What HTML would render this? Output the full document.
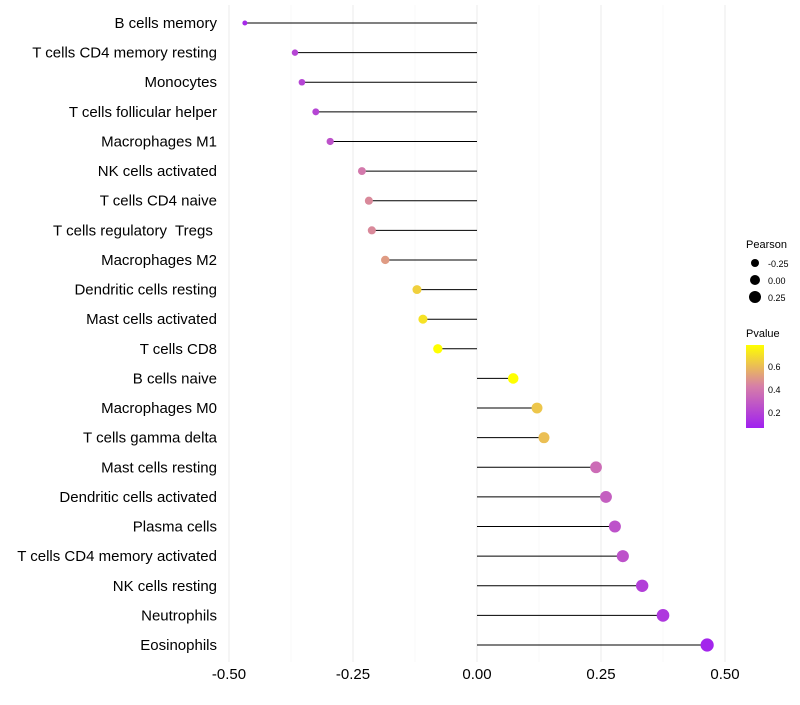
<!DOCTYPE html>
<html><head><meta charset="utf-8"><style>
body{margin:0;background:#fff;font-family:"Liberation Sans",sans-serif;}
text{white-space:pre;}
</style></head><body>
<svg id="chart" width="800" height="700" xmlns="http://www.w3.org/2000/svg" font-family="Liberation Sans, sans-serif">
<g id="grid"></g>
<g id="marks"></g>
<g id="ylabels"></g>
<g id="xlabels"></g>
<g>
<text x="746" y="248" font-size="11" fill="#000">Pearson</text>
<circle cx="755" cy="263" r="4" fill="#000"/><text x="768" y="267" font-size="9">-0.25</text>
<circle cx="755" cy="280" r="5" fill="#000"/><text x="768" y="284" font-size="9">0.00</text>
<circle cx="755" cy="297" r="6" fill="#000"/><text x="768" y="301" font-size="9">0.25</text>
</g>
<g>
<defs><linearGradient id="pg" x1="0" y1="1" x2="0" y2="0">
<stop offset="0" stop-color="#a020f0"/><stop offset="0.5" stop-color="#d67ea8"/><stop offset="1" stop-color="#ffff00"/>
</linearGradient></defs>
<text x="746" y="337" font-size="11">Pvalue</text>
<rect x="746" y="345" width="18" height="83" fill="url(#pg)"/>
<text x="768" y="370" font-size="9">0.6</text>
<text x="768" y="393" font-size="9">0.4</text>
<text x="768" y="416" font-size="9">0.2</text>
</g>
</svg>
<script>
const categories=["B cells memory","T cells CD4 memory resting","Monocytes","T cells follicular helper","Macrophages M1","NK cells activated","T cells CD4 naive","T cells regulatory  Tregs ","Macrophages M2","Dendritic cells resting","Mast cells activated","T cells CD8","B cells naive","Macrophages M0","T cells gamma delta","Mast cells resting","Dendritic cells activated","Plasma cells","T cells CD4 memory activated","NK cells resting","Neutrophils","Eosinophils"];
const pearson=[-0.468,-0.367,-0.353,-0.325,-0.296,-0.232,-0.218,-0.212,-0.185,-0.121,-0.109,-0.079,0.073,0.121,0.135,0.240,0.260,0.278,0.294,0.333,0.375,0.464];
const pvalue=[0.1,0.2,0.2,0.2,0.25,0.4,0.45,0.45,0.5,0.65,0.7,0.78,0.78,0.62,0.6,0.35,0.3,0.25,0.25,0.18,0.15,0.08];
const xTicks=[-0.5,-0.25,0,0.25,0.5];
const xTickLabels=["-0.50","-0.25","0.00","0.25","0.50"];
const NS="http://www.w3.org/2000/svg";
const xs=v=>477+v*496;
const ys=i=>23+i*(622/21);
function mk(t,a,p){const e=document.createElementNS(NS,t);for(const k in a)e.setAttribute(k,a[k]);p.appendChild(e);return e;}
function lerp(a,b,t){return a.map((v,i)=>Math.round(v+(b[i]-v)*t));}
function col(p){const t=Math.max(0,Math.min(1,(p-0.06)/0.72));const c=t<0.5?lerp([160,32,240],[214,126,168],t*2):lerp([214,126,168],[255,255,0],(t-0.5)*2);return `rgb(${c})`;}
const grid=document.getElementById('grid');
for(let k=-0.5;k<=0.501;k+=0.125){
  const major=Math.abs((k*4)%1)<1e-6;
  const l=mk('line',{x1:xs(k),x2:xs(k),y1:5,y2:662,stroke:major?'#ebebeb':'#f5f5f5','stroke-width':major?1:0.6},grid);
  
  
}
const marks=document.getElementById('marks'),yl=document.getElementById('ylabels'),xl=document.getElementById('xlabels');
categories.forEach((c,i)=>{
  const y=ys(i),v=pearson[i];
  const ln=mk('line',{x1:xs(0),x2:xs(v),y1:y,y2:y,stroke:'#000','stroke-width':1},marks);
  
  
  const r=Math.sqrt(Math.max(2,25+40*v));
  const dot=mk('circle',{cx:xs(v),cy:y,r:r,fill:col(pvalue[i])},marks);
  
  
  const t=mk('text',{x:217,y:y+5,'text-anchor':'end','font-size':15,fill:'#000'},yl);
  t.textContent=c;
  
  
});
xTicks.forEach((v,i)=>{
  const t=mk('text',{x:xs(v),y:679,'text-anchor':'middle','font-size':15,fill:'#000'},xl);
  t.textContent=xTickLabels[i];
  
  
});
</script>
</body></html>
